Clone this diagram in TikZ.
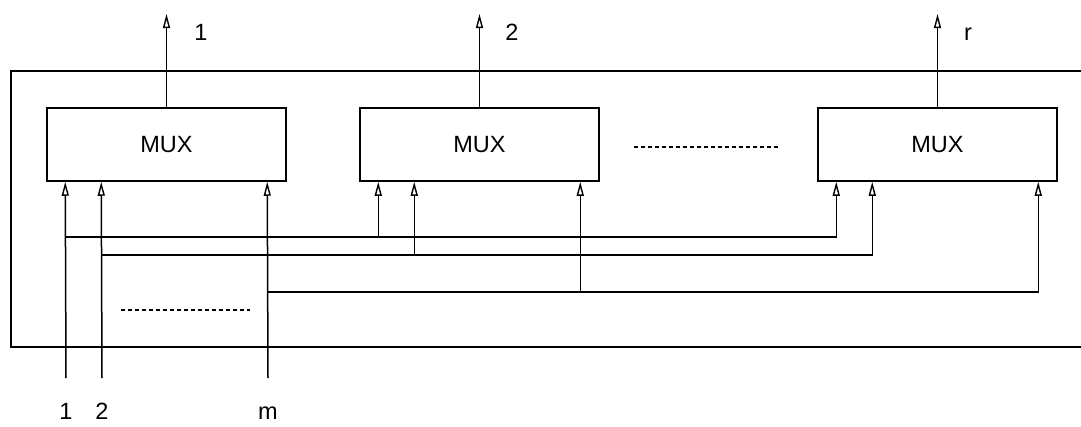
\documentclass[tikz,border=0pt]{standalone}
\usepackage{fontspec}
\setmainfont{Liberation Sans}
\usetikzlibrary{arrows.meta,calc}
\begin{document}
\begin{tikzpicture}[x=1pt,y=-1pt,line width=1.5pt,
  mux/.style={draw,minimum width=239pt,minimum height=73pt,inner sep=0pt,font=\fontsize{23.5}{28}\selectfont},
  lbl/.style={font=\fontsize{23.5}{28}\selectfont,inner sep=0pt,anchor=base},
  sig/.style={-{Triangle[open,length=14pt,width=7pt,line width=1.4pt]}},
  dotline/.style={line width=1.3pt,dash pattern=on 4pt off 3pt}]
\useasboundingbox (0,0) rectangle (1081,426);
% outer frame
\draw (1081,71) -- (11,71) -- (11,347) -- (1081,347);
% MUX boxes
\node[mux] (b1) at (166.5,144.5) {MUX};
\node[mux] (b2) at (479.5,144.5) {MUX};
\node[mux] (b3) at (937.5,144.5) {MUX};
% input points
\foreach \b in {b1,b2,b3}{
  \coordinate (\b i1) at ($(\b.south west)+(19,0)$);
  \coordinate (\b i2) at ($(\b.south west)+(55,0)$);
  \coordinate (\b i3) at ($(\b.south west)+(221,0)$);
}
% outputs
\coordinate (o1) at (166.5,14);
\coordinate (o2) at (479.5,14);
\coordinate (o3) at (937.5,14);
\draw[sig] (b1.north) -- (o1);
\draw[sig] (b2.north) -- (o2);
\draw[sig] (b3.north) -- (o3);
\node[lbl] (l1) at (201,40) {1};
\node[lbl] (l2) at (512,40) {2};
\node[lbl] (lr) at (968,40) {r};
% input sources
\coordinate (s1) at (66,378);
\coordinate (s2) at (102,378);
\coordinate (sm) at (268,378);
\draw[sig] (s1) -- (b1i1);
\draw[sig] (s2) -- (b1i2);
\draw[sig] (sm) -- (b1i3);
% buses
\coordinate (j1) at (66,237);
\coordinate (j2) at (102,255);
\coordinate (jm) at (268,292);
\draw[sig] (j1) -| (b3i1);
\draw[sig] (j2) -| (b3i2);
\draw[sig] (jm) -| (b3i3);
\draw[sig] (b2i1 |- j1) -- (b2i1);
\draw[sig] (b2i2 |- j2) -- (b2i2);
\draw[sig] (b2i3 |- jm) -- (b2i3);
% labels of inputs
\node[lbl] (n1) at (66,419) {1};
\node[lbl] (n2) at (102,419) {2};
\node[lbl] (nm) at (268,419) {m};
% dotted ellipses
\draw[dotline] (121,310) -- (250,310);
\draw[dotline] (634,147) -- (780,147);
\end{tikzpicture}
\end{document}
